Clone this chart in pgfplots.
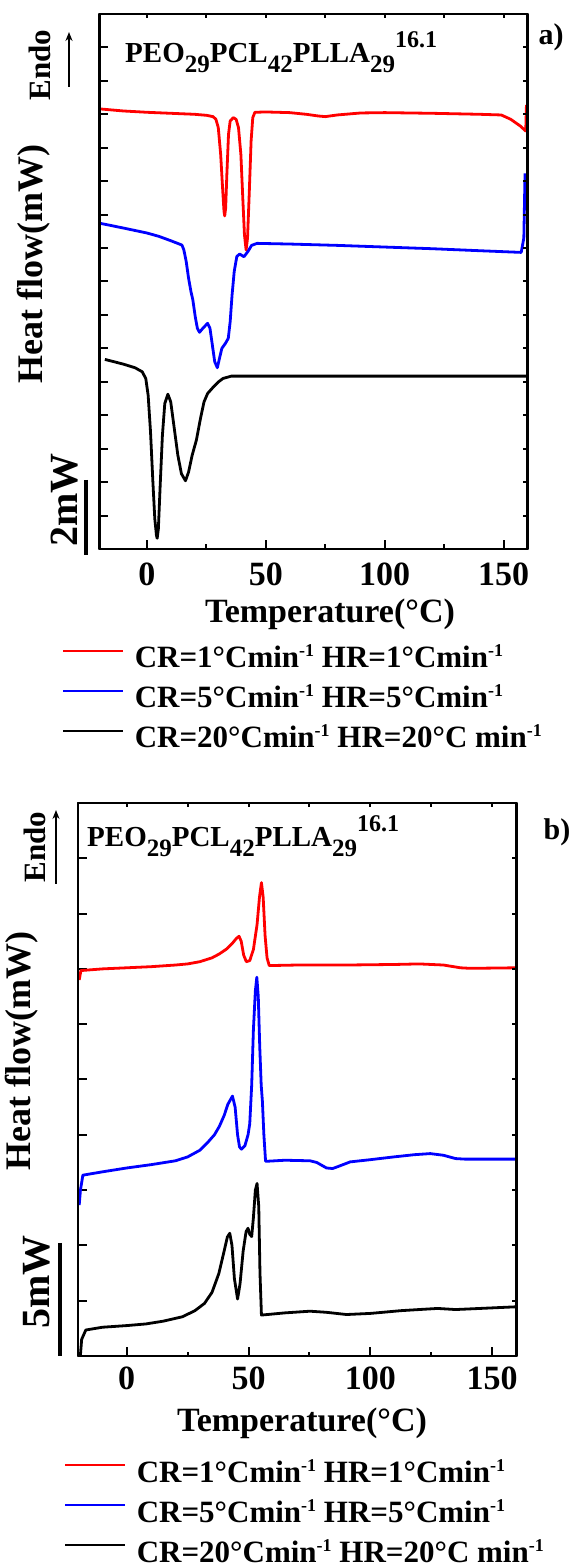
\documentclass[border=0pt]{standalone}
\usepackage{fontspec}
\setmainfont{Liberation Serif}
\usepackage{pgfplots}
\pgfplotsset{compat=1.18}
\usetikzlibrary{arrows.meta}

\newcommand{\fs}[1]{\fontsize{#1}{#1}\selectfont\bfseries}
\newcommand{\sub}[1]{\raisebox{-10pt}{\fs{25}#1}}
\newcommand{\sups}[1]{\raisebox{15pt}{\fs{24}#1}}
\newcommand{\mi}{\raisebox{11pt}{\fs{18}-1}}

\pgfplotsset{
  dsc/.style={
    scale only axis, xmin=-20, xmax=160,
    axis line style={line width=2.5pt, line join=round},
    tick style={black, line width=2pt},
    tick align=inside,
    xtick={0,50,100,150}, xticklabels={0,50,100,150},
    minor xtick={25,75,125},
    xtick pos=left, ytick pos=left,
    yticklabels={},
    major tick length=9pt, minor tick length=4.5pt,
    xticklabel style={font=\fs{34}, inner sep=0pt},
    legend cell align=left,
    legend style={draw=none, fill=none, inner sep=0pt, outer sep=0pt,
      font=\fs{31}, row sep=10pt, column sep=10pt,
      nodes={inner sep=0pt, text height=22pt, text depth=8pt},
      anchor=north west},
    legend image code/.code={\draw[##1] (0pt,10pt) -- (60pt,10pt);},
  },
  frm/.style={
    scale only axis, xmin=-20, xmax=160,
    axis line style={line width=2.5pt, line join=round},
    tick style={black, line width=2pt},
    tick align=inside,
    xtick pos=right, ytick pos=right,
    xtick={0,25,...,150},
    xticklabels={}, yticklabels={},
    major tick length=4.5pt,
  },
  crv/.style={line width=2.8pt, line join=round},
}

\begin{document}
\begin{tikzpicture}[x=1pt,y=1pt]
\useasboundingbox (0,0) rectangle (573,1566);

% ---------------- panel a ----------------
\begin{axis}[dsc, at={(99.4pt,1017pt)}, anchor=south west, width=428pt, height=535pt,
  ymin=0, ymax=16, ytick={1,...,15},
  xticklabel style={yshift=-14pt},
  legend style={at={(axis description cs:-0.0874,-0.1813)}}]
\addplot[red, crv] coordinates {
(-19.6,13.16) (-10,13.10) (0,13.06) (10,13.03) (20,13.0) (25,12.97) (27.8,12.93)
(29,12.85) (30,12.6) (31,11.8) (31.8,10.8) (32.4,10.1) (32.7,9.96) (33.1,10.2)
(33.6,11.2) (34.3,12.4) (35,12.8) (36.3,12.9) (37.5,12.85) (38.5,12.6) (39.5,11.8)
(40.3,10.5) (41,9.4) (41.7,8.94) (42.3,9.3) (43,10.6) (43.8,12.2) (44.5,12.9)
(45.4,13.06) (50,13.07) (60,13.05) (67,13.0) (72,12.95) (75,12.93) (80,12.98)
(90,13.04) (100,13.05) (120,13.03) (140,13.0) (149,12.98) (153,12.85) (157,12.65)
(159.3,12.5) (159.6,13.28)
};
\addlegendentry{CR=1°Cmin\mi{} HR=1°Cmin\mi}
\addplot[blue, crv] coordinates {
(-19.7,9.74) (-10,9.6) (0,9.45) (5,9.35) (10,9.22) (14.7,9.09) (15.5,8.95)
(16.5,8.6) (17.5,8.1) (18.5,7.7) (19.3,7.45) (20.3,6.95) (21.2,6.6) (22.1,6.48)
(23.5,6.6) (25.5,6.75) (26.5,6.6) (27.5,6.1) (28.5,5.6) (29.6,5.42) (30.5,5.7)
(31.5,6.0) (33,6.15) (34.2,6.3) (35,6.8) (35.8,7.6) (36.7,8.3) (37.8,8.75)
(39,8.82) (40.8,8.74) (42.5,8.9) (44,9.08) (46.3,9.14) (60,9.12) (80,9.08)
(100,9.03) (120,8.98) (140,8.92) (157.4,8.87) (158.5,9.3) (159,11.23)
};
\addlegendentry{CR=5°Cmin\mi{} HR=5°Cmin\mi}
\addplot[black, crv] coordinates {
(-17.7,5.67) (-10,5.53) (-5,5.42) (-2,5.3) (-0.5,5.1) (0.5,4.6) (1.5,3.5)
(2.5,2.0) (3.3,0.9) (4.0,0.4) (4.3,0.32) (4.8,0.6) (5.5,1.8) (6.5,3.4) (7.5,4.35)
(8.8,4.63) (10,4.4) (11.5,3.6) (13,2.8) (14.5,2.25) (16.2,2.04) (17.5,2.3)
(19,2.8) (20.8,3.26) (22.5,3.9) (24,4.4) (25.5,4.65) (28,4.85) (30.1,5.0)
(32,5.1) (35.5,5.17) (50,5.17) (100,5.17) (160,5.17)
};
\addlegendentry{CR=20°Cmin\mi{} HR=20°C min\mi}
\end{axis}
\begin{axis}[frm, at={(99.4pt,1017pt)}, anchor=south west, width=428pt, height=535pt,
  ymin=0, ymax=16, ytick={1,...,15}]
\end{axis}

\node[rotate=90, font=\fs{31}] at (40,1501) {Endo};
\draw[-{Stealth[length=9pt,width=7pt]}, line width=1.6pt] (69,1479) -- (69,1534);
\node[rotate=90, font=\fs{36}] at (34,1302) {Heat flow(mW)};
\node[rotate=90, font=\fs{40}] at (65,1066) {2mW};
\draw[line width=3.5pt] (86,1086) -- (86,1011);
\node[font=\fs{34}, anchor=base] at (330,943) {Temperature(°C)};
\node[font=\fs{30}] at (551,1529) {a)};
\node[anchor=base west, inner sep=0pt, font=\fs{29}] at (125,1503)
  {PEO\sub{29}PCL\sub{42}PLLA\sub{29}\sups{16.1}};

% ---------------- panel b ----------------
\begin{axis}[dsc, at={(78pt,210pt)}, anchor=south west, width=438.5pt, height=553pt,
  ymin=0, ymax=10, ytick={1,...,9},
  xticklabel style={yshift=-11pt},
  legend style={at={(axis description cs:-0.0319,-0.1881)}}]
\addplot[red, crv] coordinates {
(-19.5,6.8) (-18.8,6.97) (-10,7.0) (0,7.02) (10,7.04) (20,7.07) (25,7.09)
(30,7.13) (35,7.2) (38,7.27) (41,7.36) (43.5,7.47) (45,7.55) (46.1,7.59)
(47,7.5) (48,7.25) (49.1,7.13) (50.5,7.15) (52,7.35) (53.5,7.8) (54.5,8.3)
(55.3,8.56) (56,8.3) (56.8,7.6) (57.6,7.2) (58.5,7.06) (70,7.07) (90,7.07)
(110,7.08) (120,7.09) (130,7.07) (137,7.02) (141,7.01) (160,7.02)
};
\addlegendentry{CR=1°Cmin\mi{} HR=1°Cmin\mi}
\addplot[blue, crv] coordinates {
(-19.5,2.73) (-19,3.0) (-18,3.27) (-10,3.33) (0,3.4) (10,3.46) (20,3.53)
(25,3.6) (30,3.72) (33,3.85) (36,4.0) (38,4.15) (40,4.35) (41.5,4.55)
(43.4,4.70) (44.5,4.5) (45.5,4.0) (46.3,3.78) (47.1,3.74) (48.5,3.8) (49.8,4.0)
(50.5,4.2) (51.3,4.9) (52,5.9) (52.8,6.6) (53.4,6.85) (54,6.5) (54.6,5.6)
(55.2,4.9) (55.7,4.6) (56.3,4.0) (57,3.52) (65,3.54) (75.2,3.53) (78,3.5)
(82,3.4) (84.5,3.39) (87,3.43) (91.7,3.51) (100,3.55) (109.6,3.6) (118,3.64)
(124.6,3.66) (130,3.63) (135,3.57) (138.8,3.56) (150,3.56) (160,3.56)
};
\addlegendentry{CR=5°Cmin\mi{} HR=5°Cmin\mi}
\addplot[black, crv] coordinates {
(-19,0.02) (-18.5,0.3) (-16.8,0.47) (-10,0.52) (0,0.55) (7.9,0.58) (15,0.63)
(22.9,0.71) (28,0.82) (31.9,0.95) (35,1.15) (37.8,1.49) (40,1.9) (41.3,2.15)
(42.3,2.22) (43.2,2.0) (44.2,1.4) (45.5,1.03) (46.5,1.3) (47.8,1.9) (49,2.25)
(49.8,2.31) (50.5,2.2) (51.3,2.16) (52,2.5) (52.8,3.0) (53.5,3.12) (54.2,2.7)
(54.7,1.5) (55.3,0.74) (65,0.78) (75.2,0.81) (82,0.79) (90.2,0.75) (100,0.77)
(112.6,0.82) (120,0.84) (127.6,0.86) (135,0.84) (145,0.86) (160,0.89)
};
\addlegendentry{CR=20°Cmin\mi{} HR=20°C min\mi}
\end{axis}
\begin{axis}[frm, at={(78pt,210pt)}, anchor=south west, width=438.5pt, height=553pt,
  ymin=0, ymax=10, ytick={1,...,9}]
\end{axis}

\node[rotate=90, font=\fs{31}] at (35,719) {Endo};
\draw[-{Stealth[length=9pt,width=7pt]}, line width=1.6pt] (56,682) -- (56,756);
\node[rotate=90, font=\fs{36}] at (22,515) {Heat flow(mW)};
\node[rotate=90, font=\fs{40}] at (37,284) {5mW};
\draw[line width=3.5pt] (60,323) -- (60,210);
\node[font=\fs{34}, anchor=base] at (302,134) {Temperature(°C)};
\node[font=\fs{30}] at (557,734) {b)};
\node[anchor=base west, inner sep=0pt, font=\fs{29}] at (87,719)
  {PEO\sub{29}PCL\sub{42}PLLA\sub{29}\sups{16.1}};
\end{tikzpicture}
\end{document}
